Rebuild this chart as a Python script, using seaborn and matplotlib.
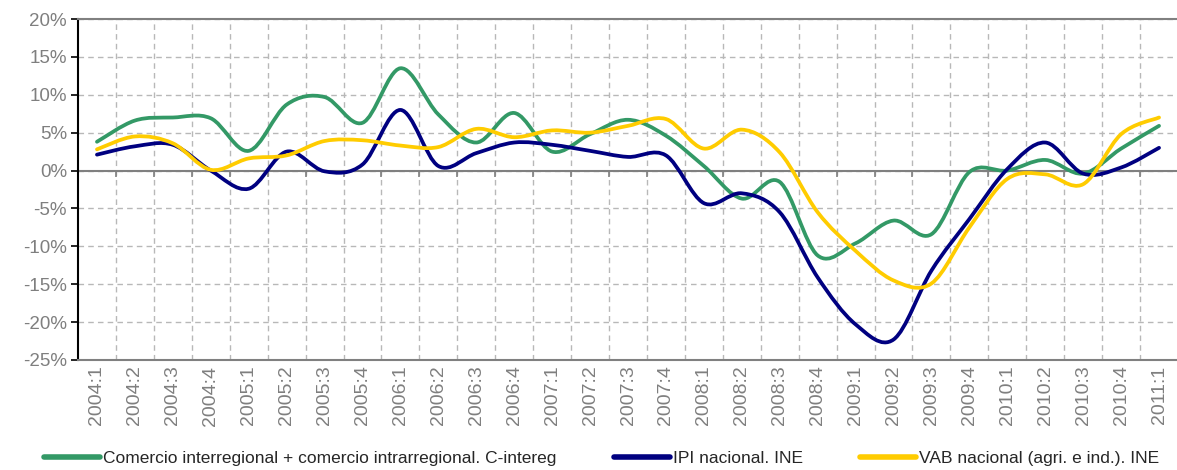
import numpy as np
import pandas as pd
import matplotlib
matplotlib.use("Agg")
import matplotlib.pyplot as plt
import seaborn as sns
from matplotlib.path import Path
from matplotlib.patches import PathPatch
from matplotlib.lines import Line2D
from matplotlib.ticker import FixedLocator, FuncFormatter

# quarters 2004:1 .. 2011:1
quarters = [f"{y}:{q}" for y in range(2004, 2011) for q in range(1, 5)] + ["2011:1"]

c_intereg = [3.8, 6.6, 7.0, 6.9, 2.6, 8.7, 9.7, 6.3, 13.5, 7.4, 3.7, 7.6, 2.5, 4.8,
             6.7, 4.6, 0.6, -3.7, -1.5, -11.2, -9.6, -6.6, -8.4, -0.2, 0.0, 1.4,
             -0.4, 2.9, 5.9]
ipi_nacional = [2.1, 3.2, 3.4, 0.0, -2.4, 2.5, -0.1, 0.8, 8.0, 0.6, 2.3, 3.7, 3.4, 2.6,
                1.8, 2.0, -4.3, -3.0, -5.5, -14.1, -20.3, -22.3, -13.2, -6.4, 0.2, 3.7,
                -0.4, 0.4, 3.0]
vab_nacional = [2.8, 4.5, 3.6, 0.1, 1.6, 2.0, 3.9, 4.0, 3.3, 3.1, 5.5, 4.4, 5.3, 5.0,
                5.9, 6.8, 2.9, 5.4, 2.4, -5.5, -10.6, -14.5, -14.9, -7.5, -1.1, -0.5,
                -1.8, 4.8, 7.0]

series_names = ["Comercio interregional + comercio intrarregional. C-intereg",
                "IPI nacional. INE",
                "VAB nacional (agri. e ind.). INE"]
colors = ["#339966", "#000080", "#FFCC00"]


def bezier_path(xy):
    # smooth curve through the points, Excel-style (Catmull-Rom as cubic Bezier)
    pts = np.vstack([xy[0], xy, xy[-1]])
    verts = [tuple(xy[0])]
    codes = [Path.MOVETO]
    for i in range(1, len(pts) - 2):
        p0, p1, p2, p3 = pts[i - 1], pts[i], pts[i + 1], pts[i + 2]
        verts += [tuple(p1 + (p2 - p0) / 6), tuple(p2 - (p3 - p1) / 6), tuple(p2)]
        codes += [Path.CURVE4] * 3
    return Path(verts, codes)


df = pd.DataFrame({"pos": np.arange(len(quarters))})
long_df = pd.concat([
    pd.DataFrame({"pos": df["pos"], "value": vals, "serie": name})
    for name, vals in zip(series_names, [c_intereg, ipi_nacional, vab_nacional])
])

sns.set_style("white")
plt.rcParams["font.family"] = ["Liberation Sans", "DejaVu Sans"]

fig = plt.figure(figsize=(11.77, 4.70), dpi=100)
ax = fig.add_axes([78 / 1177, 110 / 470, 1100 / 1177, 341 / 470])

sns.lineplot(data=long_df, x="pos", y="value", hue="serie", palette=colors,
             hue_order=series_names, legend=False, ax=ax, sort=False)

# swap the straight segments for smoothed curves (like the original spreadsheet chart)
for line, col in zip(list(ax.lines), colors):
    xy = line.get_xydata()
    line.set_visible(False)
    ax.add_patch(PathPatch(bezier_path(xy), facecolor="none", edgecolor=col,
                           lw=2.7, capstyle="round", joinstyle="round", zorder=3))

ax.set_xlim(-0.5, len(quarters) - 0.5)
ax.set_ylim(-25, 20)

grid_col = "#b8b8b8"
ax.set_yticks(np.arange(-25, 21, 5))
ax.yaxis.set_major_formatter(FuncFormatter(lambda v, p: f"{v:.0f}%"))
ax.set_xticks(np.arange(len(quarters)))
ax.set_xticklabels(quarters, rotation=90)
ax.xaxis.set_minor_locator(FixedLocator(np.arange(0.5, len(quarters) - 1, 1)))
ax.grid(axis="y", which="major", color=grid_col, linestyle=(0, (4, 3)), lw=1)
ax.grid(axis="x", which="minor", color=grid_col, linestyle=(0, (4, 3)), lw=1)
ax.set_axisbelow(True)

ax.tick_params(axis="x", which="both", length=0, colors="#7f7f7f", labelsize=14, pad=4)
ax.tick_params(axis="y", length=5, width=1.2, color="black", labelcolor="#7f7f7f",
               labelsize=13.5, pad=3, direction="out", left=True)

ax.axhline(0, color="#808080", lw=1.5, zorder=2)
ax.vlines(np.arange(0.5, len(quarters) - 1, 1), -0.8, 0, color="#808080", lw=1.2, zorder=2)

ax.spines["left"].set_color("black")
ax.spines["left"].set_linewidth(1.5)
for s in ["top", "bottom"]:
    ax.spines[s].set_color("#808080")
    ax.spines[s].set_linewidth(1.5)
ax.spines["right"].set_visible(False)
ax.set_xlabel("")
ax.set_ylabel("")

handles = [Line2D([0], [0], color=c, lw=4) for c in colors]
fig.legend(handles, series_names, loc="center", bbox_to_anchor=(602 / 1177, 12 / 470),
           ncol=3, frameon=False, fontsize=12.5, handlelength=3.2, handletextpad=0.2,
           columnspacing=3.3)

fig.savefig("out.png", dpi=100)
